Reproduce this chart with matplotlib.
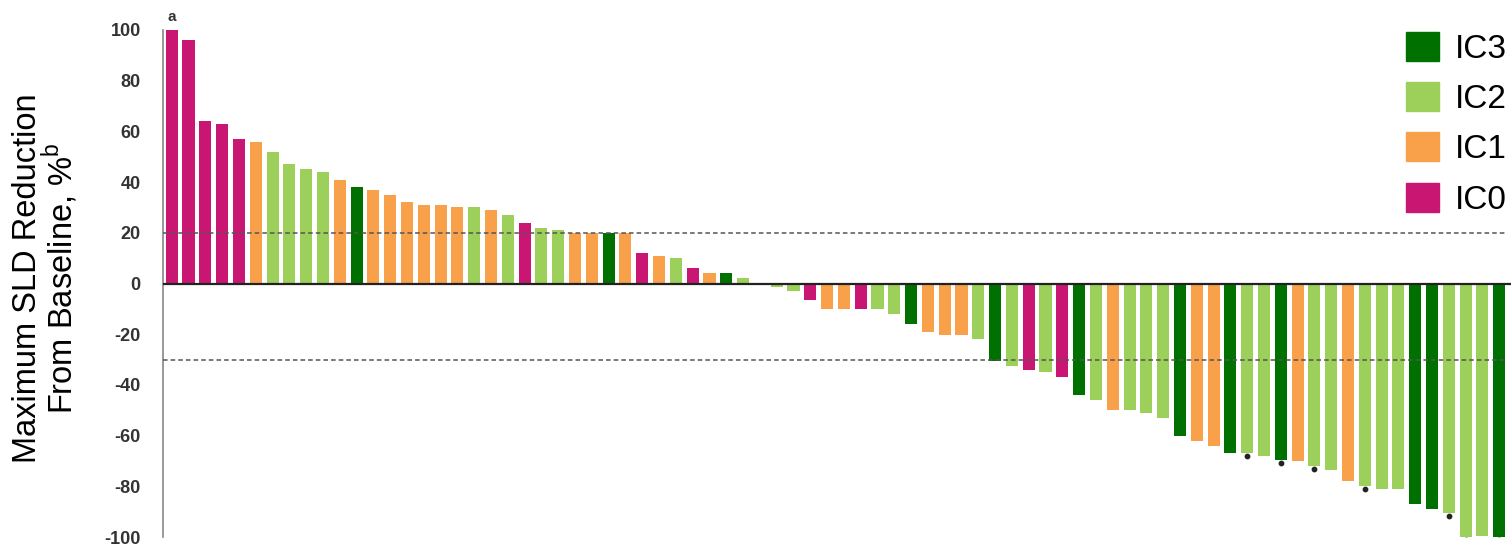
import matplotlib.pyplot as plt
from matplotlib.patches import Patch

plt.rcParams['font.family'] = ['Liberation Sans', 'DejaVu Sans']

# max change in SLD per patient, sorted (waterfall)
values = [100, 96, 64, 63, 57, 56, 52, 47, 45, 44,
          41, 38, 37, 35, 32, 31, 31, 30, 30, 29,
          27, 24, 22, 21, 20, 20, 20, 20, 12, 11,
          10, 6, 4, 4, 2, 0, -1.5, -3, -6.5, -10,
          -10, -10, -10, -12, -16, -19, -20.5, -20.5, -22, -30.5,
          -32.5, -34, -35, -37, -44, -46, -50, -50, -51, -53,
          -60, -62, -64, -67, -67, -68, -69.5, -70, -72, -73.5,
          -78, -80, -81, -81, -87, -89, -90.5, -100, -99.5, -100]
groups = ["IC0", "IC0", "IC0", "IC0", "IC0", "IC1", "IC2", "IC2", "IC2", "IC2",
          "IC1", "IC3", "IC1", "IC1", "IC1", "IC1", "IC1", "IC1", "IC2", "IC1",
          "IC2", "IC0", "IC2", "IC2", "IC1", "IC1", "IC3", "IC1", "IC0", "IC1",
          "IC2", "IC0", "IC1", "IC3", "IC2", "IC2", "IC2", "IC2", "IC0", "IC1",
          "IC1", "IC0", "IC2", "IC2", "IC3", "IC1", "IC1", "IC1", "IC2", "IC3",
          "IC2", "IC0", "IC2", "IC0", "IC3", "IC2", "IC1", "IC2", "IC2", "IC2",
          "IC3", "IC1", "IC1", "IC3", "IC2", "IC2", "IC3", "IC1", "IC2", "IC2",
          "IC1", "IC2", "IC2", "IC2", "IC3", "IC3", "IC2", "IC2", "IC2", "IC3"]
# bars with a small black dot under them
dotted = [65, 67, 69, 72, 77, 78, 80]
yticks = [100, 80, 60, 40, 20, 0, -20, -40, -60, -80, -100]

legend_order = ["IC3", "IC2", "IC1", "IC0"]
colors = {"IC3": "#007000", "IC2": "#9cd05a", "IC1": "#f9a04a", "IC0": "#c81672"}

fig = plt.figure(figsize=(15.11, 5.45), dpi=100)
ax = fig.add_axes([163 / 1511, 8 / 545, 1348 / 1511, 507 / 545])

x = list(range(len(values)))
ax.bar(x, values, width=0.72, color=[colors[g] for g in groups], zorder=2)

dot_x = [i - 1 for i in dotted]
dot_y = [values[i - 1] - 1.2 for i in dotted]
ax.scatter(dot_x, dot_y, s=10, color="#222222", zorder=3)

ax.axhline(0, color="#222222", lw=1.6, zorder=4)
for level in [20, -30]:
    ax.plot([-0.52, 79.4], [level, level], ls=(0, (3, 2)), color="#555555", lw=1.1, zorder=3)

ax.set_xlim(-0.52, 79.7)
ax.set_ylim(-100, 100)
ax.set_yticks(yticks)
ax.set_yticklabels([str(t) for t in yticks])
ax.set_xticks([])
ax.tick_params(axis="y", length=0, pad=16, labelsize=13, labelcolor="#333333")
for lbl in ax.get_yticklabels():
    lbl.set_fontweight("bold")
for side in ["top", "right", "bottom"]:
    ax.spines[side].set_visible(False)
ax.spines["left"].set_color("#888888")
ax.spines["left"].set_linewidth(1.2)

ax.set_ylabel("Maximum SLD Reduction\nFrom Baseline, %$^{\\mathregular{b}}$", fontsize=23.5,
              linespacing=0.9)
ax.yaxis.set_label_coords(-0.0616, 0.51)
ax.text(0, 102.5, "a", ha="center", va="bottom", fontsize=11, fontweight="bold", color="#333333")

handles = [Patch(color=colors[g], label=g) for g in legend_order]
fig.legend(handles=handles, loc="upper right", bbox_to_anchor=(1.013, 0.985), frameon=False,
           fontsize=24, handlelength=0.97, handleheight=0.97, handletextpad=0.5,
           labelspacing=0.52, borderaxespad=0.3)

fig.savefig("out.png", dpi=100)
